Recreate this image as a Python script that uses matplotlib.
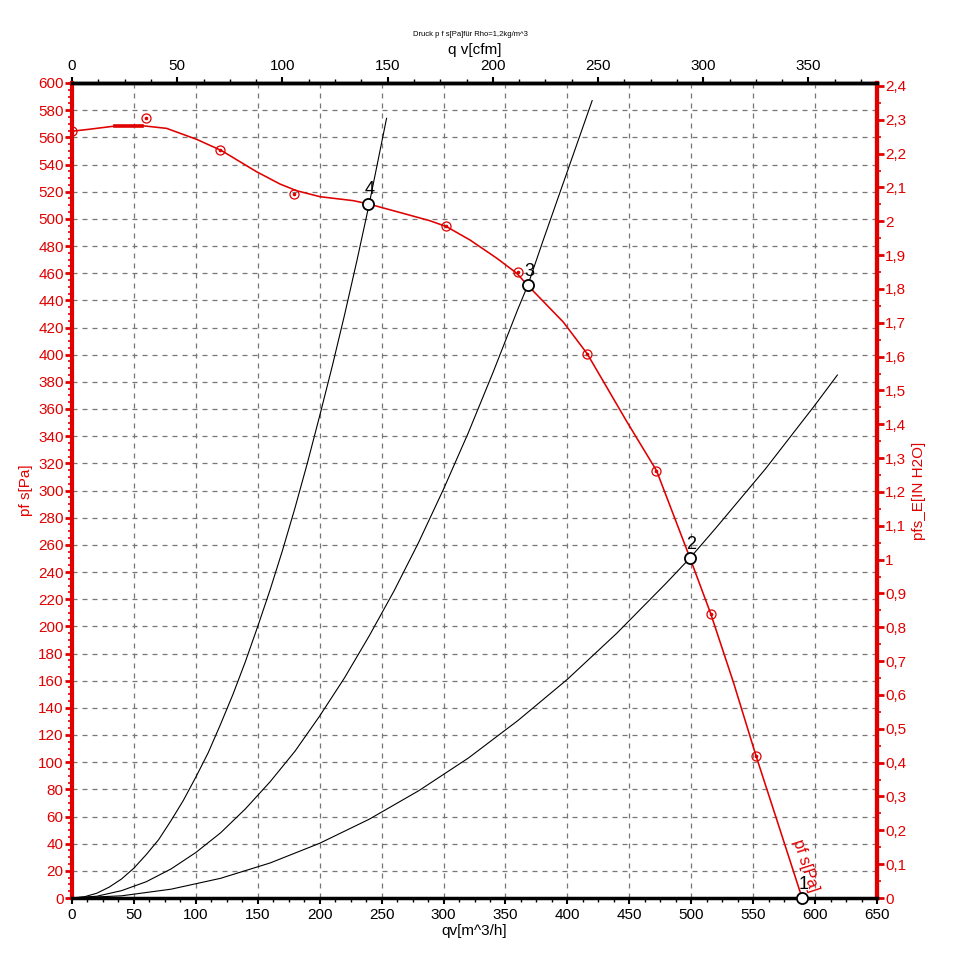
import matplotlib.pyplot as plt
import matplotlib.ticker as mticker
import numpy as np

plt.rcParams['font.family'] = ['Liberation Sans', 'DejaVu Sans']

# fan curve pf s [Pa] over qv [m^3/h]
fan_q = [0, 14.5, 34.7, 56.3, 76.4, 100.7, 120.8, 149, 168, 181.4, 200.2, 227, 239.3, 267.5,
         289, 302.5, 321.4, 343, 359, 368, 396.7, 416, 447.8, 472, 499, 515.7, 534, 552.3,
         570, 589.5]
fan_p = [564.5, 566, 568.3, 568.6, 566.6, 558.5, 550.2, 534.7, 525.6, 520.7, 516.3, 513.4, 511,
         504, 498.6, 494.2, 484.4, 471, 460, 451, 424, 400.7, 351, 314.6, 250.3, 209.4, 159,
         104.7, 55, 0]

# measured points on fan curve
meas_q = [0, 60, 119.5, 179, 302, 360, 416, 471.5, 515.7, 552.3]
meas_p = [565, 574, 551, 518, 495, 461, 400.7, 314.6, 209.4, 104.7]

# flat segment (thick)
flat_q = [34.7, 56.3]
flat_p = [568.5, 568.5]

# system curves
sys4_q = [0, 10, 20, 30, 40, 50, 60, 70, 80, 90, 100, 110, 120, 130, 140, 150, 160, 170, 180,
          190, 200, 210, 220, 230, 240, 254]
sys4_p = [0, 0.9, 3.5, 8, 14, 22, 32, 43, 57, 72, 89, 107, 128, 150, 174, 200, 227, 256, 287,
          320, 355, 391, 429, 469, 511, 574]
sys3_q = [0, 20, 40, 60, 80, 100, 120, 140, 160, 180, 200, 220, 240, 260, 280, 300, 320, 340,
          360, 368, 380, 400, 420]
sys3_p = [0, 1.3, 5.4, 12, 21.4, 33.5, 48, 65.6, 85.6, 108, 134, 162, 193, 226, 262, 301, 342.5,
          387, 433.5, 451, 483, 535, 587]
sys2_q = [0, 40, 80, 120, 160, 200, 240, 280, 320, 360, 400, 440, 480, 499, 520, 560, 600, 618]
sys2_p = [0, 1.6, 6.5, 14.5, 25.8, 40.3, 58, 79, 103, 130.6, 161, 195, 232, 250.3, 272.5, 316,
          363, 385]

# operating points
op_labels = ['4', '3', '2', '1']
op_q = [239.3, 368, 499, 589.5]
op_p = [511, 451, 250.3, 0]

RED = '#e00000'
PA_PER_INH2O = 249.089
M3H_PER_CFM = 1.699

fig = plt.figure(figsize=(9.55, 9.76), dpi=100)
ax = fig.add_axes([72 / 955, 78 / 976, 805 / 955, 815 / 976])

ax.set_xlim(0, 650)
ax.set_ylim(0, 600)

for q, p in [(sys4_q, sys4_p), (sys3_q, sys3_p), (sys2_q, sys2_p)]:
    ax.plot(q, p, color='black', lw=0.8)

ax.plot(fan_q, fan_p, color=RED, lw=1.15, zorder=3)
ax.plot(flat_q, flat_p, color=RED, lw=2.6, zorder=3)
ax.plot(meas_q, meas_p, 'o', ms=6.5, mfc='none', mec=RED, mew=0.9, zorder=4)
ax.plot(meas_q, meas_p, 'o', ms=1.6, color=RED, zorder=4)

ax.plot(op_q, op_p, 'o', ms=8, mfc='white', mec='black', mew=1.3, clip_on=False, zorder=5)
for lab, q, p in zip(op_labels, op_q, op_p):
    ax.text(q + 1, p + 4, lab, ha='center', va='bottom', fontsize=13, color='black', zorder=6)

ax.text(592, 24, 'pf s[Pa]', color=RED, fontsize=11.5, rotation=-72,
        ha='center', va='center', rotation_mode='anchor')

# grid
ax.set_xticks(np.arange(0, 651, 50))
ax.set_yticks(np.arange(0, 601, 20))
ax.xaxis.set_minor_locator(mticker.MultipleLocator(12.5))
ax.yaxis.set_minor_locator(mticker.MultipleLocator(5))
ax.grid(True, which='major', color='#777777', ls=(0, (4, 4)), lw=0.9)

ax.tick_params(axis='x', which='major', direction='out', length=4, width=1.5,
               colors='black', labelsize=11, labelcolor='black')
ax.tick_params(axis='x', which='minor', direction='out', length=3, width=1, colors='black')
ax.tick_params(axis='y', which='major', direction='out', length=5, width=2,
               colors=RED, labelsize=11, labelcolor=RED, pad=1)
ax.tick_params(axis='y', which='minor', direction='out', length=3, width=1.2, colors=RED)

ax.spines['bottom'].set_linewidth(2.5)
ax.spines['top'].set_linewidth(2.5)
ax.spines['left'].set_color(RED)
ax.spines['left'].set_linewidth(3)
ax.spines['right'].set_color(RED)
ax.spines['right'].set_linewidth(3)

ax.set_xlabel('qv[m^3/h]', fontsize=11, labelpad=1)
ax.set_ylabel('pf s[Pa]', fontsize=11, color=RED, labelpad=4)

# top axis cfm
top = ax.secondary_xaxis('top', functions=(lambda x: x / M3H_PER_CFM, lambda x: x * M3H_PER_CFM))
top.set_xticks(np.arange(0, 351, 50))
top.xaxis.set_minor_locator(mticker.MultipleLocator(12.5))
top.tick_params(which='major', direction='out', length=4, width=1.5, labelsize=11)
top.tick_params(which='minor', direction='out', length=3, width=1)
top.spines['top'].set_linewidth(2.5)
top.set_xlabel('q v[cfm]', fontsize=11, labelpad=3)

# right axis in H2O
right = ax.secondary_yaxis('right', functions=(lambda p: p / PA_PER_INH2O, lambda h: h * PA_PER_INH2O))
right.set_yticks(np.round(np.arange(0, 2.41, 0.1), 1))
right.yaxis.set_minor_locator(mticker.MultipleLocator(0.05))
right.yaxis.set_major_formatter(mticker.FuncFormatter(
    lambda v, pos: ('%g' % round(v, 1)).replace('.', ',')))
right.tick_params(which='major', direction='out', length=5, width=2, colors=RED,
                  labelsize=11, labelcolor=RED, pad=1)
right.tick_params(which='minor', direction='out', length=3, width=1.2, colors=RED)
right.spines['right'].set_color(RED)
right.spines['right'].set_linewidth(3)
right.set_ylabel('pfs_E[IN H2O]', fontsize=11, color=RED, labelpad=4)

fig.text(470 / 955, 1 - 34 / 976, 'Druck p f s[Pa]für Rho=1,2kg/m^3', fontsize=5.5,
         ha='center', va='center')

fig.savefig('out.png', dpi=100)
